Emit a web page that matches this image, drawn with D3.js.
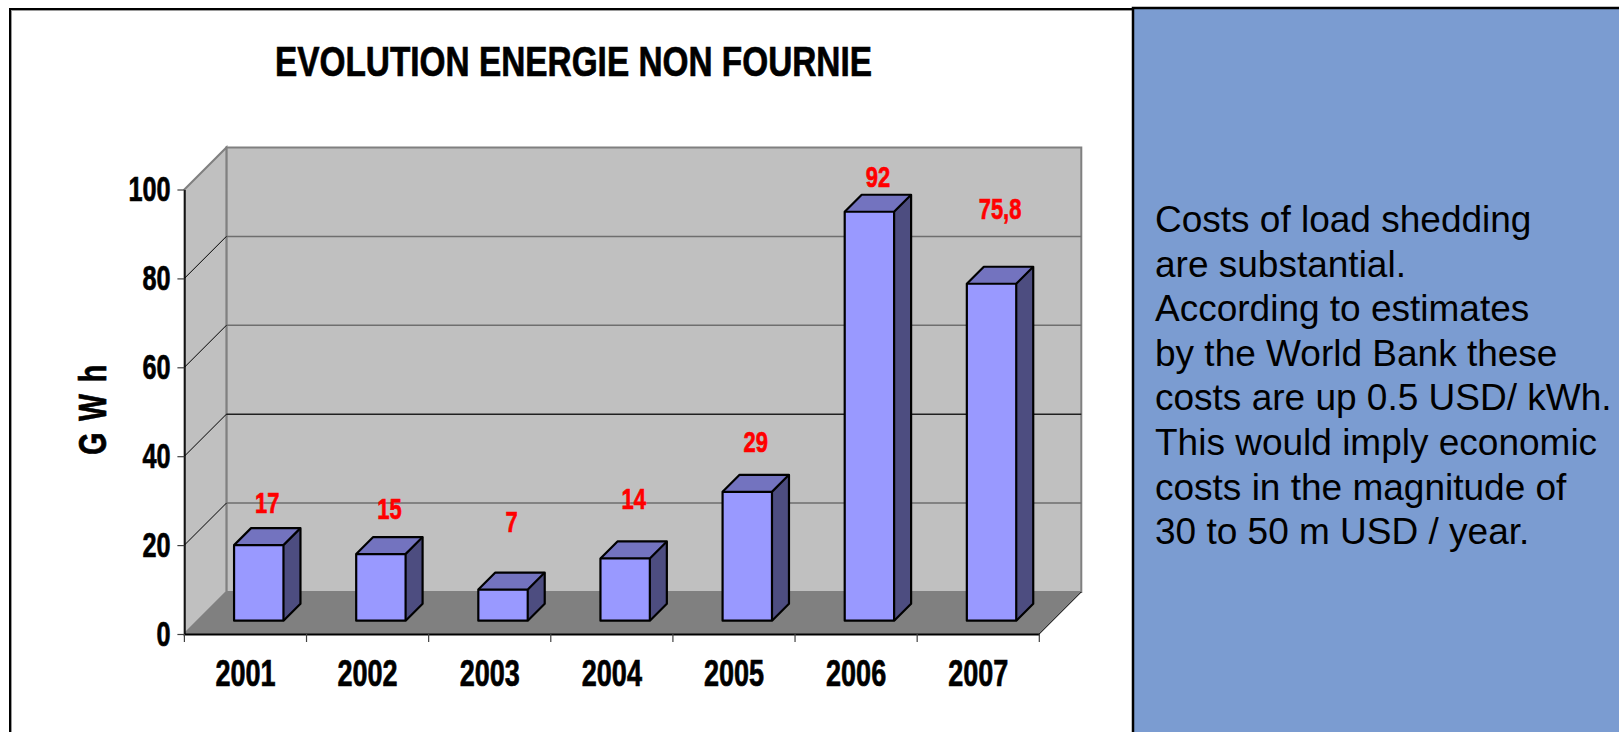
<!DOCTYPE html>
<html>
<head>
<meta charset="utf-8">
<script src="https://cdn.jsdelivr.net/npm/d3@7/dist/d3.min.js"></script>
<style>
  body { margin: 0; background: #ffffff; }
  svg { display: block; }
</style>
</head>
<body>
<div id="canvas"></div>
<script>
// data
var years = ["2001", "2002", "2003", "2004", "2005", "2006", "2007"];
var energyGWh = [17, 15, 7, 14, 29, 92, 75.8];
var valueLabels = ["17", "15", "7", "14", "29", "92", "75,8"];
var yTicks = [0, 20, 40, 60, 80, 100];
var chartTitle = "EVOLUTION ENERGIE NON FOURNIE";
var yAxisTitle = "GWh";
var noteLines = [
    "Costs of load shedding",
    "are substantial.",
    "According to estimates",
    "by the World Bank these",
    "costs are up 0.5 USD/ kWh.",
    "This would imply economic",
    "costs in the magnitude of",
    "30 to 50 m USD / year."
];

// layout
var canvasWidth = 1619, canvasHeight = 732;
var chartFont = '"Liberation Sans", Arial, sans-serif';
var narrowRatio = 0.73;      // chart text is a condensed bold face
var wallDepth = 42;          // 3d depth of the floor / side wall
var barFrontDepth = 13.3;    // where the bars' front face sits inside the depth
var barDepth = 17;
var barWidth = 49.4;
// label nudges (px above the bar top), the original labels were dragged by hand
var labelLift = [24, 27, 49, 41, 31, 16, 56];

var colors = {
    wall: "#c0c0c0",
    wallEdge: "#808080",
    floor: "#808080",
    barFront: "#9999ff",
    barTop: "#7373bf",
    barSide: "#4d4d80",
    panel: "#7b9cd1"
};

var svg = d3.select("#canvas").append("svg")
    .attr("width", canvasWidth)
    .attr("height", canvasHeight)
    .attr("viewBox", "0 0 " + canvasWidth + " " + canvasHeight);

// squeeze text into a narrow face and thicken it a bit
function condense(selection)
{
    selection.each(function() {
        var w = this.getComputedTextLength();
        var node = d3.select(this);
        node.attr("textLength", w * narrowRatio)
            .attr("lengthAdjust", "spacingAndGlyphs")
            .attr("stroke", node.attr("fill"))
            .attr("stroke-width", 0.7);
    });
}

// outer frame of the chart
svg.append("rect")
    .attr("x", 10).attr("y", 9)
    .attr("width", 1200).attr("height", 800)
    .attr("fill", "#ffffff")
    .attr("stroke", "#000000")
    .attr("stroke-width", 2);
svg.append("rect")
    .attr("x", 11.5).attr("y", 10.5)
    .attr("width", 1200).attr("height", 800)
    .attr("fill", "none")
    .attr("stroke", "#9a9a9a")
    .attr("stroke-width", 1);

// scales
var x = d3.scaleBand().domain(years).range([184.4, 1039.3]);
var y = d3.scaleLinear().domain([0, 100]).range([634, 189.5]);
var x0 = x.range()[0], x1 = x.range()[1];
var D = wallDepth;

function pts(arr) { return arr.map(function(p) { return p.join(","); }).join(" "); }

// back wall
svg.append("polygon")
    .attr("points", pts([[x0 + D, y(100) - D], [x1 + D, y(100) - D], [x1 + D, y(0) - D], [x0 + D, y(0) - D]]))
    .attr("fill", colors.wall)
    .attr("stroke", colors.wallEdge)
    .attr("stroke-width", 2);

// side wall
svg.append("polygon")
    .attr("points", pts([[x0, y(100)], [x0 + D, y(100) - D], [x0 + D, y(0) - D], [x0, y(0)]]))
    .attr("fill", colors.wall)
    .attr("stroke", colors.wallEdge)
    .attr("stroke-width", 2);

// gridlines
var inner = yTicks.filter(function(v) { return v > 0 && v < 100; });
svg.selectAll(".gridBack").data(inner).enter().append("line")
    .attr("class", "gridBack")
    .attr("x1", x0 + D).attr("x2", x1 + D)
    .attr("y1", function(v) { return y(v) - D; })
    .attr("y2", function(v) { return y(v) - D; })
    .attr("stroke", function(v) { return v == 40 ? "#202020" : "#6e6e6e"; })
    .attr("stroke-width", 1.5);
svg.selectAll(".gridSide").data(inner).enter().append("line")
    .attr("class", "gridSide")
    .attr("x1", x0).attr("x2", x0 + D)
    .attr("y1", function(v) { return y(v); })
    .attr("y2", function(v) { return y(v) - D; })
    .attr("stroke", "#000000")
    .attr("stroke-width", 1);

// floor
svg.append("polygon")
    .attr("points", pts([[x0, y(0)], [x0 + D, y(0) - D], [x1 + D, y(0) - D], [x1, y(0)]]))
    .attr("fill", colors.floor);
svg.append("line")
    .attr("x1", x1).attr("y1", y(0))
    .attr("x2", x1 + D).attr("y2", y(0) - D)
    .attr("stroke", "#000000").attr("stroke-width", 1);

// bars
var step = x.step();
var bars = svg.selectAll(".bar").data(energyGWh).enter().append("g").attr("class", "bar");
function barLeft(i) { return x(years[i]) + (step - barWidth) / 2 + barFrontDepth; }

bars.append("polygon")   // side face
    .attr("points", function(v, i) {
        var r = barLeft(i) + barWidth, t = y(v) - barFrontDepth, b = y(0) - barFrontDepth;
        return pts([[r, t], [r + barDepth, t - barDepth], [r + barDepth, b - barDepth], [r, b]]);
    })
    .attr("fill", colors.barSide);
bars.append("polygon")   // top face
    .attr("points", function(v, i) {
        var l = barLeft(i), r = l + barWidth, t = y(v) - barFrontDepth;
        return pts([[l, t], [l + barDepth, t - barDepth], [r + barDepth, t - barDepth], [r, t]]);
    })
    .attr("fill", colors.barTop);
bars.append("rect")      // front face
    .attr("x", function(v, i) { return barLeft(i); })
    .attr("y", function(v) { return y(v) - barFrontDepth; })
    .attr("width", barWidth)
    .attr("height", function(v) { return y(0) - y(v); })
    .attr("fill", colors.barFront);
bars.append("polygon")   // outline
    .attr("points", function(v, i) {
        var l = barLeft(i), r = l + barWidth, t = y(v) - barFrontDepth, b = y(0) - barFrontDepth;
        return pts([[l, b], [l, t], [l + barDepth, t - barDepth], [r + barDepth, t - barDepth],
                    [r + barDepth, b - barDepth], [r, b]]);
    })
    .attr("fill", "none")
    .attr("stroke", "#000000")
    .attr("stroke-width", 2.2)
    .attr("stroke-linejoin", "round");
bars.append("polyline")
    .attr("points", function(v, i) {
        var l = barLeft(i), r = l + barWidth, t = y(v) - barFrontDepth, b = y(0) - barFrontDepth;
        return pts([[l, t], [r, t], [r + barDepth, t - barDepth]]) + " " + pts([[r, t], [r, b]]);
    })
    .attr("fill", "none")
    .attr("stroke", "#000000")
    .attr("stroke-width", 2.2);

// value labels
svg.selectAll(".valueLabel").data(energyGWh).enter().append("text")
    .attr("class", "valueLabel")
    .attr("x", function(v, i) { return x(years[i]) + step / 2 + barFrontDepth + barDepth / 2; })
    .attr("y", function(v, i) { return y(v) - barFrontDepth - barDepth / 2 - labelLift[i]; })
    .attr("text-anchor", "middle")
    .attr("font-family", chartFont)
    .attr("font-weight", "bold")
    .attr("font-size", 30)
    .attr("fill", "#ff0000")
    .text(function(v, i) { return valueLabels[i]; })
    .call(condense);

// y axis
var yAxis = svg.append("g")
    .attr("transform", "translate(" + x0 + ",0)")
    .call(d3.axisLeft(y).tickValues(yTicks).tickSize(7).tickPadding(7).tickSizeOuter(0));
yAxis.select(".domain").attr("stroke", "#000000").attr("stroke-width", 1.5);
yAxis.selectAll(".tick line").attr("stroke", "#404040").attr("stroke-width", 1.2);
yAxis.selectAll(".tick text")
    .attr("font-family", chartFont)
    .attr("font-weight", "bold")
    .attr("font-size", 34.5)
    .attr("fill", "#000000")
    .call(condense);

// x axis
var xAxis = svg.append("g")
    .attr("transform", "translate(0," + y(0) + ")")
    .call(d3.axisBottom(x).tickSize(0).tickPadding(26).tickSizeOuter(0));
xAxis.select(".domain").attr("stroke", "#000000").attr("stroke-width", 2);
xAxis.selectAll(".tick text")
    .attr("font-family", chartFont)
    .attr("font-weight", "bold")
    .attr("font-size", 37)
    .attr("fill", "#000000")
    .call(condense);
svg.selectAll(".xTickMark").data(d3.range(years.length + 1)).enter().append("line")
    .attr("class", "xTickMark")
    .attr("x1", function(i) { return x0 + i * step; })
    .attr("x2", function(i) { return x0 + i * step; })
    .attr("y1", y(0)).attr("y2", y(0) + 8)
    .attr("stroke", "#404040").attr("stroke-width", 1.2);

// titles
svg.append("text")
    .attr("x", 573.5).attr("y", 76)
    .attr("text-anchor", "middle")
    .attr("font-family", chartFont)
    .attr("font-weight", "bold")
    .attr("font-size", 43)
    .attr("textLength", 597)
    .attr("lengthAdjust", "spacingAndGlyphs")
    .attr("fill", "#000000")
    .attr("stroke", "#000000")
    .attr("stroke-width", 0.7)
    .text(chartTitle);

// rotated axis title: squeezed glyphs with wide gaps, as in the original
svg.append("g")
    .attr("transform", "translate(106,404) rotate(-90) scale(" + narrowRatio + ",1)")
  .append("text")
    .attr("text-anchor", "middle")
    .attr("font-family", chartFont)
    .attr("font-weight", "bold")
    .attr("font-size", 39)
    .attr("letter-spacing", 16)
    .attr("fill", "#000000")
    .attr("stroke", "#000000")
    .attr("stroke-width", 0.7)
    .text(yAxisTitle);

// note panel
svg.append("rect")
    .attr("x", 1133).attr("y", 8)
    .attr("width", 520).attr("height", 760)
    .attr("fill", colors.panel)
    .attr("stroke", "#000000")
    .attr("stroke-width", 2.5);

svg.append("text")
    .attr("font-family", chartFont)
    .attr("font-size", 37)
    .attr("fill", "#000000")
    .selectAll("tspan").data(noteLines).enter().append("tspan")
    .attr("x", 1155)
    .attr("y", function(d, i) { return 232 + i * 44.6; })
    .text(function(d) { return d; });
</script>
</body>
</html>
